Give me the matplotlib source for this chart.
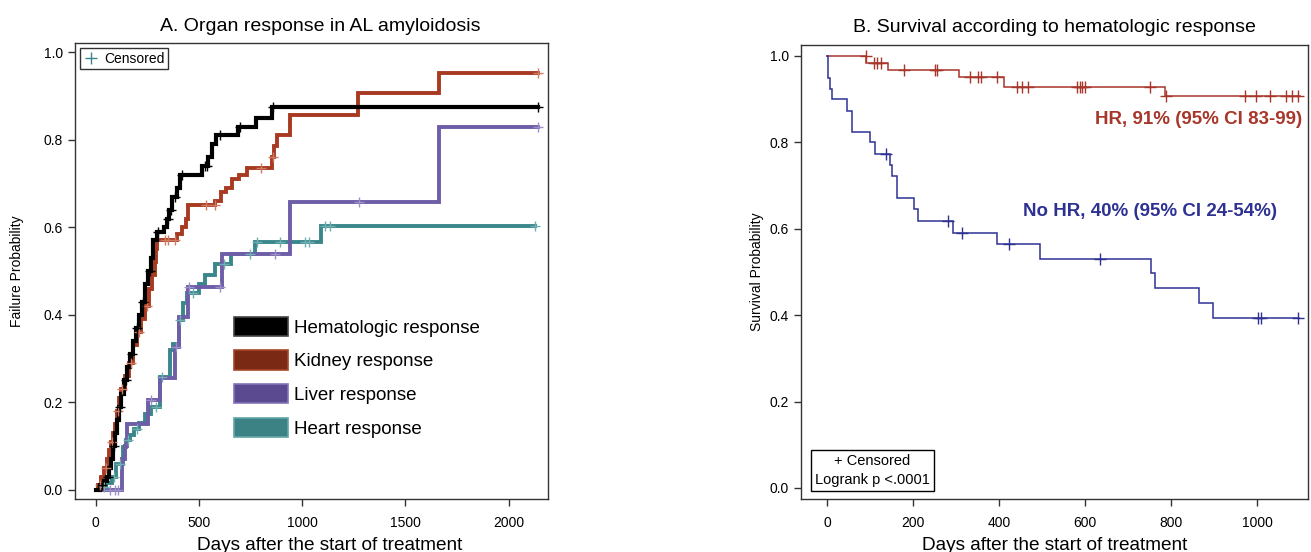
import numpy as np
import matplotlib
matplotlib.use("Agg")
import matplotlib.pyplot as plt
from matplotlib.patches import Patch
from matplotlib.lines import Line2D

plt.rcParams["font.family"] = ["Liberation Sans", "DejaVu Sans"]

# ---- panel A: cumulative organ response (failure probability) ----
hem_t = [19, 40, 55, 65, 75, 85, 95, 105, 115, 125, 135, 150, 165, 180, 195, 210, 225, 240,
         255, 268, 280, 295, 330, 345, 355, 370, 395, 410, 515, 545, 565, 585, 690, 775, 855]
hem_p = [0.01, 0.02, 0.03, 0.05, 0.07, 0.10, 0.13, 0.16, 0.19, 0.22, 0.25, 0.28, 0.31, 0.34,
         0.37, 0.40, 0.43, 0.47, 0.50, 0.53, 0.57, 0.59, 0.60, 0.62, 0.64, 0.67, 0.69, 0.72,
         0.74, 0.76, 0.79, 0.81, 0.83, 0.85, 0.875]
hem_cens = [30, 60, 90, 120, 145, 175, 200, 230, 262, 300, 350, 365, 385, 420, 530, 540, 600, 700, 860, 2140]
hem_end = 2140

kid_t = [11, 25, 40, 55, 65, 75, 85, 95, 105, 115, 125, 140, 160, 180, 200, 220, 240, 258, 275,
         285, 292, 298, 395, 420, 437, 447, 580, 605, 630, 660, 695, 735, 855, 865, 880, 940, 1270, 1662]
kid_p = [0.01, 0.03, 0.05, 0.07, 0.09, 0.11, 0.13, 0.15, 0.18, 0.21, 0.23, 0.26, 0.29, 0.33, 0.36,
         0.39, 0.42, 0.46, 0.49, 0.52, 0.55, 0.57, 0.585, 0.60, 0.62, 0.65, 0.66, 0.68, 0.69, 0.71,
         0.72, 0.735, 0.76, 0.785, 0.81, 0.856, 0.906, 0.953]
kid_cens = [20, 50, 80, 110, 130, 170, 210, 250, 334, 350, 383, 536, 576, 802, 858, 2142]
kid_end = 2142

liv_t = [130, 140, 150, 255, 310, 385, 405, 445, 610, 940, 1662]
liv_p = [0.07, 0.10, 0.15, 0.205, 0.255, 0.327, 0.395, 0.464, 0.54, 0.657, 0.829]
liv_cens = [70, 95, 110, 270, 390, 450, 600, 867, 1273, 2142]
liv_end = 2142

hrt_t = [15, 50, 80, 100, 132, 145, 165, 185, 210, 237, 270, 310, 358, 375, 405, 425, 440,
         500, 528, 580, 657, 770, 1093]
hrt_p = [0.007, 0.015, 0.03, 0.06, 0.098, 0.113, 0.125, 0.14, 0.152, 0.174, 0.19, 0.258, 0.319,
         0.334, 0.387, 0.426, 0.449, 0.471, 0.49, 0.517, 0.54, 0.566, 0.602]
hrt_cens = [40, 90, 120, 155, 200, 290, 320, 410, 470, 620, 745, 780, 891, 1012, 1033, 1109, 1133, 2126]
hrt_end = 2126

organ_labels = ["Hematologic response", "Kidney response", "Liver response", "Heart response"]

# ---- panel B: survival by hematologic response ----
hr_t = [91, 142, 307, 411, 786]
hr_s = [0.983, 0.967, 0.95, 0.928, 0.906]
hr_cens = [90, 108, 116, 125, 179, 251, 255, 333, 352, 357, 395, 441, 454, 466, 581, 588, 593,
           599, 750, 788, 972, 998, 1029, 1066, 1080, 1094]
hr_end = 1100

nohr_t = [2, 7, 12, 47, 59, 99, 112, 147, 150, 162, 203, 211, 292, 395, 495, 752, 763, 865, 897]
nohr_s = [0.949, 0.923, 0.899, 0.873, 0.823, 0.80, 0.773, 0.747, 0.722, 0.672, 0.645, 0.618,
          0.591, 0.564, 0.53, 0.498, 0.462, 0.429, 0.394]
nohr_cens = [136, 282, 313, 424, 635, 1002, 1009, 1095]
nohr_end = 1097


def value_at(times, vals, t, start):
    idx = np.searchsorted(times, t, side="right") - 1
    return np.where(idx < 0, start, np.asarray(vals)[np.clip(idx, 0, None)])


def km(ax, times, vals, cens, end, start, color, lw, mcolor, ms, mew, z=2):
    x = np.r_[0, times, end]
    y = np.r_[start, vals, vals[-1]]
    ax.step(x, y, where="post", color=color, lw=lw, zorder=z, solid_joinstyle="miter")
    c = np.asarray(cens, float)
    ax.plot(c, value_at(times, vals, c, start), ls="none", marker="+",
            color=mcolor, ms=ms, mew=mew, zorder=z + 0.5)


def style(ax):
    for s in ax.spines.values():
        s.set_color("#333333")
        s.set_linewidth(1.0)
    ax.tick_params(direction="out", length=5, width=1.0, color="#333333", labelsize=10)
    ax.tick_params(axis="x", pad=7)
    ax.set_yticks(np.arange(0, 1.01, 0.2))
    ax.set_yticklabels([f"{v:.1f}" for v in np.arange(0, 1.01, 0.2)])


fig = plt.figure(figsize=(13.11, 5.52), dpi=100)
axA = fig.add_axes([0.0572, 0.096, 0.3608, 0.826])
axB = fig.add_axes([0.611, 0.096, 0.3867, 0.823])

# panel A
km(axA, hrt_t, hrt_p, hrt_cens, hrt_end, 0.0, "#3A878B", 2.8, "#6FAFB2", 7, 1.0)
km(axA, liv_t, liv_p, liv_cens, liv_end, 0.0, "#6E5EA8", 2.8, "#9C90C8", 7, 1.0)
km(axA, kid_t, kid_p, kid_cens, kid_end, 0.0, "#A83A22", 2.8, "#D07A62", 7, 1.0)
km(axA, hem_t, hem_p, hem_cens, hem_end, 0.0, "#000000", 3.0, "#000000", 7, 1.0)
axA.set_xlim(-100, 2190)
axA.set_ylim(-0.021, 1.021)
axA.set_xticks([0, 500, 1000, 1500, 2000])
style(axA)
axA.set_title("A. Organ response in AL amyloidosis", fontsize=14, pad=9, x=0.518)
axA.set_xlabel("Days after the start of treatment", fontsize=13.7, labelpad=4)
axA.xaxis.set_label_coords(0.539, -0.084)
axA.set_ylabel("Failure Probability", fontsize=10, labelpad=14)

cens_leg = axA.legend(handles=[Line2D([], [], ls="none", marker="+", color="#3A878B", ms=8, mew=1)],
                      labels=["Censored"], loc="upper left", bbox_to_anchor=(0.011, 0.989),
                      borderaxespad=0, fontsize=10, frameon=True, fancybox=False,
                      edgecolor="black", handlelength=1.0, handletextpad=0.5, borderpad=0.25)
cens_leg.get_frame().set_linewidth(1.0)
axA.add_artist(cens_leg)

patches = [Patch(facecolor="#000000", edgecolor="#444444", lw=1.2),
           Patch(facecolor="#7A2915", edgecolor="#A8452B", lw=1.2),
           Patch(facecolor="#5C4A90", edgecolor="#8474B8", lw=1.2),
           Patch(facecolor="#3C8284", edgecolor="#62A5A7", lw=1.2)]
axA.legend(handles=patches, labels=organ_labels, loc="upper left", bbox_to_anchor=(0.336, 0.40),
           borderaxespad=0, borderpad=0, frameon=False, fontsize=13.5, handlelength=2.9,
           handleheight=1.2, labelspacing=0.74, handletextpad=0.3)

# panel B
km(axB, hr_t, hr_s, hr_cens, hr_end, 1.0, "#A8362A", 1.1, "#A8362A", 9, 1.0)
km(axB, nohr_t, nohr_s, nohr_cens, nohr_end, 1.0, "#2E3192", 1.1, "#2E3192", 9, 1.0)
axB.set_xlim(-60.5, 1118)
axB.set_ylim(-0.0255, 1.0255)
axB.set_xticks([0, 200, 400, 600, 800, 1000])
style(axB)
axB.set_title("B. Survival according to hematologic response", fontsize=14, pad=9)
axB.set_xlabel("Days after the start of treatment", fontsize=13.7, labelpad=4)
axB.xaxis.set_label_coords(0.5, -0.084)
axB.set_ylabel("Survival Probability", fontsize=10, labelpad=4)

axB.text(0.988, 0.835, "HR, 91% (95% CI 83-99)", transform=axB.transAxes, ha="right", va="center",
         fontsize=13.5, fontweight="bold", color="#A8362A")
axB.text(0.938, 0.633, "No HR, 40% (95% CI 24-54%)", transform=axB.transAxes, ha="right", va="center",
         fontsize=13.5, fontweight="bold", color="#2E3192")
axB.text(0.141, 0.027, "+ Censored\nLogrank p <.0001", transform=axB.transAxes, ha="center",
         va="bottom", fontsize=10.5, linespacing=1.4, multialignment="center",
         bbox=dict(boxstyle="square,pad=0.3", facecolor="white", edgecolor="black", lw=1.0))

fig.savefig("out.png", dpi=100)
